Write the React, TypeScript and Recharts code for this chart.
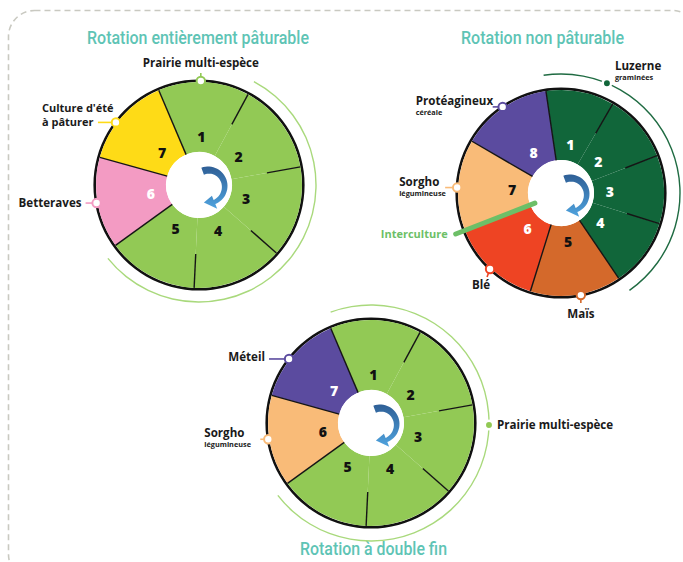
import React from 'react';
import { PieChart, Pie, Cell } from 'recharts';

const W = 683;
const H = 562;

// Rotation entièrement pâturable
const PASTURE_YEARS = ['1', '2', '3', '4', '5', '6', '7'];
const PASTURE_CROPS = ['prairie', 'prairie', 'prairie', 'prairie', 'prairie', 'betteraves', 'culture'];
const PASTURE_SHARES = [1, 1, 1, 1, 1, 1, 1];

// Rotation non pâturable
const NONPASTURE_YEARS = ['1', '2', '3', '4', '5', '6', '7', '8'];
const NONPASTURE_CROPS = ['luzerne', 'luzerne', 'luzerne', 'luzerne', 'mais', 'ble', 'sorgho', 'proteagineux'];
const NONPASTURE_SHARES = [0.75, 0.75, 0.75, 0.75, 1, 1, 1, 1];
const NONPASTURE_INTERCROP_BEFORE = '7';

// Rotation à double fin
const DUAL_YEARS = ['1', '2', '3', '4', '5', '6', '7'];
const DUAL_CROPS = ['prairie', 'prairie', 'prairie', 'prairie', 'prairie', 'sorgho', 'meteil'];
const DUAL_SHARES = [1, 1, 1, 1, 1, 1, 1];

const CROP_MAIN: Record<string, string[]> = {
  prairie: ['Prairie multi-espèce'],
  culture: ["Culture d'été", 'à pâturer'],
  betteraves: ['Betteraves'],
  luzerne: ['Luzerne'],
  proteagineux: ['Protéagineux'],
  sorgho: ['Sorgho'],
  ble: ['Blé'],
  mais: ['Maïs'],
  meteil: ['Méteil'],
};
const CROP_SUB: Record<string, string> = {
  luzerne: 'graminées',
  proteagineux: 'céréale',
  sorgho: 'légumineuse',
};

const CROP_FILL: Record<string, string> = {
  prairie: '#92c955',
  culture: '#fedb17',
  betteraves: '#f39bc3',
  luzerne: '#11663a',
  mais: '#d4692b',
  ble: '#ee4423',
  sorgho: '#f9bb78',
  proteagineux: '#5b4b9f',
  meteil: '#5b4b9f',
};
const CROP_INK: Record<string, string> = {
  prairie: '#111',
  culture: '#111',
  betteraves: '#fff',
  luzerne: '#fff',
  mais: '#111',
  ble: '#fff',
  sorgho: '#111',
  proteagineux: '#fff',
  meteil: '#fff',
};

const RAD = Math.PI / 180;
const R_IN = 33;
const R_OUT = 103;
const R_TICK = 69;
const R_NUM = 49;
const LABEL_FONT = '"Open Sans", Lato, sans-serif';
const TITLE_FONT = 'Roboto, "DejaVu Sans Condensed", sans-serif';

// clockwise from 12 o'clock
function clockPoint(cx: number, cy: number, r: number, deg: number) {
  return { x: cx + r * Math.sin(deg * RAD), y: cy - r * Math.cos(deg * RAD) };
}

function arrowPath(ox: number, oy: number) {
  const a0 = -20;
  const a1 = 158;
  const pts: { x: number; y: number }[] = [];
  for (let a = a0; a <= a1; a += 6) pts.push(clockPoint(ox, oy, 19.5, a));
  pts.push(clockPoint(ox, oy, 19.5, a1));
  pts.push(clockPoint(ox, oy, 24.5, a1));
  pts.push(clockPoint(ox, oy, 17, 194));
  pts.push(clockPoint(ox, oy, 10.5, a1));
  for (let a = a1; a >= a0; a -= 6) {
    const t = (a - a0) / (a1 - a0);
    pts.push(clockPoint(ox, oy, 12 + 3 * t, a));
  }
  pts.push(clockPoint(ox, oy, 12, a0));
  return 'M' + pts.map((p) => `${p.x.toFixed(2)},${p.y.toFixed(2)}`).join('L') + 'Z';
}

type Callout = {
  crop: string;
  at?: number;
  r?: number;
  solid?: boolean;
  line?: [number, number];
  tx: number;
  ty: number;
  anchor: 'start' | 'middle' | 'end';
};

type WheelProps = {
  id: string;
  years: string[];
  crops: string[];
  shares: number[];
  cx: number;
  cy: number;
  offset: number;
  arc: { color: string; r: number; trimStart: number; trimEnd: number };
  callouts: Callout[];
  intercropBefore?: string;
};

function Wheel({ id, years, crops, shares, cx, cy, offset, arc, callouts, intercropBefore }: WheelProps) {
  const rows = years.map((year, i) => ({ year, crop: crops[i], value: shares[i] }));
  const total = shares.reduce((s, v) => s + v, 0);
  const start = 90 - offset;

  // consecutive years of the same crop
  const groups: { crop: string; value: number }[] = [];
  rows.forEach((r) => {
    const last = groups[groups.length - 1];
    if (last && last.crop === r.crop) last.value += r.value;
    else groups.push({ crop: r.crop, value: r.value });
  });

  const firstSpan = (groups[0].value / total) * 360;
  const arcFrom = offset + arc.trimStart;
  const arcTo = offset + firstSpan - arc.trimEnd;

  const renderYear = (p: any) => {
    const i = p.index;
    const row = rows[i];
    const prev = rows[(i - 1 + rows.length) % rows.length];
    const edge = 90 - p.startAngle;
    const mid = 90 - p.midAngle;
    const full = prev.crop !== row.crop;
    const a = clockPoint(p.cx, p.cy, full ? p.innerRadius : R_TICK, edge);
    const b = clockPoint(p.cx, p.cy, p.outerRadius, edge);
    const n = clockPoint(p.cx, p.cy, R_NUM, mid);
    const ic0 = clockPoint(p.cx, p.cy, 28, edge);
    const ic1 = clockPoint(p.cx, p.cy, 113, edge);
    return (
      <g key={`${id}-y${i}`}>
        <line x1={a.x} y1={a.y} x2={b.x} y2={b.y} stroke="#151515" strokeWidth={1.4} />
        <text
          x={n.x}
          y={n.y}
          textAnchor="middle"
          dominantBaseline="central"
          fontSize={14}
          fontWeight={800}
          fontFamily={LABEL_FONT}
          fill={CROP_INK[row.crop]}
        >
          {row.year}
        </text>
        {intercropBefore === row.year && (
          <g>
            <line
              x1={ic0.x}
              y1={ic0.y}
              x2={ic1.x}
              y2={ic1.y}
              stroke="#6dbf67"
              strokeWidth={5}
              strokeLinecap="round"
            />
            <text
              x={ic1.x - 8}
              y={ic1.y + 4}
              textAnchor="end"
              fontSize={11}
              fontWeight={700}
              fontFamily={LABEL_FONT}
              fill="#6dbf67"
            >
              Interculture
            </text>
          </g>
        )}
      </g>
    );
  };

  const renderArrow = (p: any) => (
    <g key={`${id}-arrow`}>
      <defs>
        <linearGradient id={`${id}-grad`} x1="0" y1="0" x2="0" y2="1">
          <stop offset="0%" stopColor="#2f5f96" />
          <stop offset="100%" stopColor="#4fa3de" />
        </linearGradient>
      </defs>
      <path d={arrowPath(p.cx + 9, p.cy + 1)} fill={`url(#${id}-grad)`} />
    </g>
  );

  const renderCallout = (p: any) => {
    const g = groups[p.index];
    const c = callouts.find((k) => k.crop === g.crop);
    if (!c) return <g key={`${id}-c${p.index}`} />;
    const angle = c.at ?? 90 - p.midAngle;
    const dot = clockPoint(p.cx, p.cy, c.r ?? R_OUT + 1, angle);
    const color = CROP_FILL[g.crop];
    const main = CROP_MAIN[g.crop];
    const sub = CROP_SUB[g.crop];
    const size = main.length > 1 ? 11 : 11.6;
    return (
      <g key={`${id}-c${p.index}`}>
        {c.line && (
          <line
            x1={dot.x}
            y1={dot.y}
            x2={dot.x + c.line[0]}
            y2={dot.y + c.line[1]}
            stroke={color}
            strokeWidth={1.6}
          />
        )}
        {c.solid ? (
          <circle cx={dot.x} cy={dot.y} r={4.2} fill={color} stroke="#fff" strokeWidth={2.5} />
        ) : (
          <circle cx={dot.x} cy={dot.y} r={4.2} fill="#fff" stroke={color} strokeWidth={2} />
        )}
        {main.map((t, k) => (
          <text
            key={k}
            x={dot.x + c.tx}
            y={dot.y + c.ty + k * 14}
            textAnchor={c.anchor}
            fontSize={size}
            fontWeight={700}
            fontFamily={LABEL_FONT}
            fill="#1a1a1a"
          >
            {t}
          </text>
        ))}
        {sub && (
          <text
            x={dot.x + c.tx}
            y={dot.y + c.ty + 10}
            textAnchor={c.anchor}
            fontSize={7.3}
            fontWeight={700}
            fontFamily={LABEL_FONT}
            fill="#1a1a1a"
          >
            {sub}
          </text>
        )}
      </g>
    );
  };

  return (
    <div style={{ position: 'absolute', left: 0, top: 0, width: W, height: H }}>
      <PieChart width={W} height={H}>
        <Pie
          data={[{ value: 1 }]}
          dataKey="value"
          cx={cx}
          cy={cy}
          innerRadius={arc.r - 0.7}
          outerRadius={arc.r + 0.7}
          startAngle={90 - arcFrom}
          endAngle={90 - arcTo}
          fill={arc.color}
          stroke="none"
          isAnimationActive={false}
        />
        <Pie
          data={[{ value: 1 }]}
          dataKey="value"
          cx={cx}
          cy={cy}
          innerRadius={R_OUT}
          outerRadius={R_OUT + 2.6}
          startAngle={90}
          endAngle={-270}
          fill="#111"
          stroke="none"
          isAnimationActive={false}
        />
        <Pie
          data={rows}
          dataKey="value"
          cx={cx}
          cy={cy}
          innerRadius={R_IN}
          outerRadius={R_OUT}
          startAngle={start}
          endAngle={start - 360}
          stroke="none"
          label={renderYear}
          labelLine={false}
          isAnimationActive={false}
        >
          {rows.map((r, i) => (
            <Cell key={i} fill={CROP_FILL[r.crop]} />
          ))}
        </Pie>
        <Pie
          data={[{ value: 1 }]}
          dataKey="value"
          cx={cx}
          cy={cy}
          innerRadius={0}
          outerRadius={R_IN}
          startAngle={90}
          endAngle={-270}
          fill="#fff"
          stroke="none"
          label={renderArrow}
          labelLine={false}
          isAnimationActive={false}
        />
        <Pie
          data={groups}
          dataKey="value"
          cx={cx}
          cy={cy}
          innerRadius={R_IN}
          outerRadius={R_OUT}
          startAngle={start}
          endAngle={start - 360}
          fill="none"
          stroke="none"
          label={renderCallout}
          labelLine={false}
          isAnimationActive={false}
        />
      </PieChart>
    </div>
  );
}

export default function App() {
  return (
    <div
      style={{
        position: 'absolute',
        left: 0,
        top: 0,
        width: W,
        height: H,
        background: '#fff',
        overflow: 'hidden',
      }}
    >
      <svg width={W} height={H} style={{ position: 'absolute', left: 0, top: 0 }}>
        <rect
          x={8.5}
          y={10.5}
          width={690}
          height={570}
          rx={26}
          fill="none"
          stroke="#c9c9c1"
          strokeWidth={1.6}
          strokeDasharray="6 4"
        />
        <text x={198} y={44} textAnchor="middle" fontSize={18} fontWeight={500} fontFamily={TITLE_FONT} fill="#5ec4b5" textLength={222} lengthAdjust="spacingAndGlyphs">
          Rotation entièrement pâturable
        </text>
        <text x={542.5} y={44} textAnchor="middle" fontSize={18} fontWeight={500} fontFamily={TITLE_FONT} fill="#5ec4b5" textLength={163} lengthAdjust="spacingAndGlyphs">
          Rotation non pâturable
        </text>
        <text x={373.5} y={555} textAnchor="middle" fontSize={18} fontWeight={500} fontFamily={TITLE_FONT} fill="#5ec4b5" textLength={147} lengthAdjust="spacingAndGlyphs">
          Rotation à double fin
        </text>
      </svg>

      <Wheel
        id="w1"
        years={PASTURE_YEARS}
        crops={PASTURE_CROPS}
        shares={PASTURE_SHARES}
        cx={194}
        cy={180}
        offset={-23}
        arc={{ color: '#a9d97c', r: 117, trimStart: 51, trimEnd: 3 }}
        callouts={[
          { crop: 'prairie', at: 1, line: [0, -8], tx: 0, ty: -14, anchor: 'middle' },
          { crop: 'culture', at: -53, line: [-18, 0], tx: -74, ty: -10, anchor: 'start' },
          { crop: 'betteraves', at: 260, line: [-11, 0], tx: -15, ty: 4, anchor: 'end' },
        ]}
      />
      <Wheel
        id="w2"
        years={NONPASTURE_YEARS}
        crops={NONPASTURE_CROPS}
        shares={NONPASTURE_SHARES}
        cx={556}
        cy={188}
        offset={-8.4}
        arc={{ color: '#1f6b42', r: 119, trimStart: 0, trimEnd: 1 }}
        intercropBefore={NONPASTURE_INTERCROP_BEFORE}
        callouts={[
          { crop: 'luzerne', at: 22.7, r: 119, solid: true, tx: 8, ty: -13, anchor: 'start' },
          { crop: 'proteagineux', line: [-10, 0], tx: -87, ty: -2, anchor: 'start' },
          { crop: 'sorgho', at: 273, line: [-12, 0], tx: -58, ty: -2, anchor: 'start' },
          { crop: 'ble', line: [-3, 8], tx: -9, ty: 20, anchor: 'middle' },
          { crop: 'mais', at: 169, line: [0, 8], tx: 0, ty: 23, anchor: 'middle' },
        ]}
      />
      <Wheel
        id="w3"
        years={DUAL_YEARS}
        crops={DUAL_CROPS}
        shares={DUAL_SHARES}
        cx={366}
        cy={418}
        offset={-23}
        arc={{ color: '#a9d97c', r: 118, trimStart: 3, trimEnd: 2 }}
        callouts={[
          { crop: 'meteil', at: -52, line: [-20, 0], tx: -24, ty: 2, anchor: 'end' },
          { crop: 'sorgho', at: 261, line: [-8, 0], tx: -64, ty: -2, anchor: 'start' },
          { crop: 'prairie', at: 91, r: 118, solid: true, tx: 8, ty: 4, anchor: 'start' },
        ]}
      />
    </div>
  );
}
